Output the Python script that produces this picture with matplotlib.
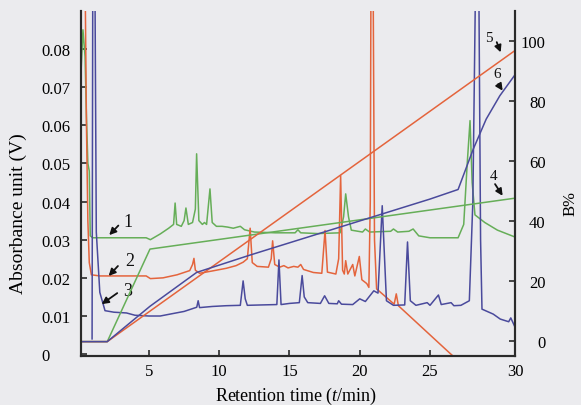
import matplotlib
matplotlib.use("Agg")
import matplotlib.pyplot as plt

plt.rcParams['font.family'] = ['Liberation Serif', 'DejaVu Serif']
plt.rcParams['mathtext.fontset'] = 'custom'
plt.rcParams['mathtext.rm'] = 'Liberation Serif'
plt.rcParams['mathtext.it'] = 'Liberation Serif:italic'

# ---- chromatogram 1 (green) ----
t1 = [0.14, 0.3, 0.45, 0.55, 0.65, 0.75, 0.82, 1.0, 3.0, 4.8, 5.1, 5.8, 6.4, 6.75, 6.86, 6.97, 7.3, 7.5, 7.63,
      7.8, 8.1, 8.3, 8.39, 8.55, 8.8, 8.95, 9.1, 9.34, 9.5, 9.8, 10.2, 10.6, 11.0, 11.5, 11.8, 12.5, 14.0, 15.4,
      15.6, 15.8, 17.0, 18.6, 18.85, 19.0, 19.2, 19.4, 20.2, 20.4, 20.7, 22.2, 22.4, 22.7, 23.5, 23.8, 24.2, 25.0,
      27.0, 27.4, 27.65, 27.85, 28.0, 28.2, 28.9, 29.8, 31.05]
v1 = [0.072, 0.085, 0.078, 0.062, 0.05, 0.048, 0.031, 0.0305, 0.0305, 0.0305, 0.0300, 0.0315, 0.033, 0.034, 0.0396,
      0.034, 0.0335, 0.035, 0.0383, 0.034, 0.0345, 0.038, 0.0525, 0.035, 0.034, 0.0345, 0.034, 0.0433, 0.0345, 0.0335,
      0.0335, 0.0333, 0.033, 0.0335, 0.0326, 0.032, 0.0318, 0.0318, 0.0326, 0.0318, 0.0316, 0.0318, 0.036, 0.042,
      0.036, 0.0325, 0.032, 0.0328, 0.032, 0.0322, 0.0328, 0.032, 0.0322, 0.0328, 0.031, 0.0305, 0.0305, 0.034,
      0.05, 0.0612, 0.045, 0.0365, 0.0345, 0.0325, 0.0307]

# ---- chromatogram 2 (red) ----
t2 = [0.2, 0.3, 0.45, 0.55, 0.65, 0.75, 0.9, 1.5, 4.8, 5.1, 6.0, 7.0, 7.9, 8.1, 8.2, 8.3, 8.6, 9.5, 10.5, 11.2,
      11.7, 12.0, 12.2, 12.35, 12.7, 13.5, 13.7, 13.8, 13.95, 14.3, 14.6, 14.9, 15.3, 15.6, 15.8, 16.0, 16.7, 17.3,
      17.53, 17.7, 18.3, 18.5, 18.64, 18.78, 18.9, 19.0, 19.15, 19.5, 19.65, 19.97, 20.15, 20.5, 20.65, 20.75, 20.8,
      20.95, 21.05, 21.2, 22.45, 22.6, 22.75, 26.4, 31.05]
v2 = [0.1, 0.1, 0.1, 0.06, 0.035, 0.024, 0.0208, 0.0205, 0.0205, 0.0198, 0.0200, 0.0208, 0.0219, 0.0235, 0.0251,
      0.022, 0.0212, 0.0218, 0.0225, 0.0232, 0.0241, 0.025, 0.033, 0.024, 0.023, 0.0228, 0.025, 0.0297, 0.0235,
      0.0228, 0.0232, 0.0226, 0.023, 0.0228, 0.0235, 0.0222, 0.0214, 0.0212, 0.0324, 0.0215, 0.021, 0.025, 0.0468,
      0.022, 0.021, 0.0245, 0.021, 0.0235, 0.0205, 0.0256, 0.0195, 0.0185, 0.0175, 0.04, 0.1, 0.1, 0.03, 0.0171,
      0.0131, 0.0158, 0.0127, 0.0003, -0.015]

# ---- chromatogram 3 (blue) ----
t3 = [0.95, 1.0, 1.15, 1.25, 1.5, 1.87, 2.5, 3.4, 4.0, 5.0, 5.8, 6.5, 7.5, 8.4, 8.5, 8.6, 9.5, 10.5, 11.5, 11.6,
      11.7, 11.85, 12.0, 13.0, 14.1, 14.25, 14.4, 15.0, 15.7, 15.9, 16.05, 16.3, 17.2, 17.5, 17.8, 18.4, 18.5, 18.7,
      19.5, 20.0, 20.4, 21.0, 21.3, 21.6, 21.9, 22.4, 23.2, 23.4, 23.6, 24.0, 24.8, 25.0, 25.6, 25.8, 26.5, 26.7,
      27.2, 27.8, 28.05, 28.25, 28.47, 28.6, 28.7, 29.5, 30.0, 30.6, 30.75, 31.05]
v3 = [0.004, 0.1, 0.1, 0.032, 0.0162, 0.0114, 0.011, 0.0108, 0.0102, 0.0100, 0.0100, 0.0105, 0.0112, 0.0123, 0.014,
      0.0122, 0.0125, 0.0127, 0.0128, 0.016, 0.0192, 0.0145, 0.0128, 0.0129, 0.013, 0.0247, 0.013, 0.0133, 0.0135,
      0.0206, 0.015, 0.0135, 0.0133, 0.0153, 0.0133, 0.0132, 0.014, 0.0131, 0.013, 0.0145, 0.0138, 0.0166, 0.016,
      0.0389, 0.014, 0.0128, 0.0129, 0.0294, 0.014, 0.0128, 0.0135, 0.0128, 0.0155, 0.013, 0.0135, 0.0127, 0.0128,
      0.014, 0.04, 0.1, 0.1, 0.03, 0.0118, 0.0105, 0.0092, 0.0085, 0.0095, 0.0071]

# ---- gradient profiles (B%) ----
g4_t = [0.14, 2.03, 5.07, 31.05]
g4_b = [-0.3, -0.3, 30.6, 47.6]
g5_t = [0.14, 2.03, 31.05]
g5_b = [-0.3, -0.3, 96.9]
g6_t = [0.14, 2.03, 5.07, 8.39, 12.19, 25.0, 27.0, 28.08, 29.0, 29.97, 31.05]
g6_b = [-0.3, -0.3, 11.5, 22.8, 28.6, 47.3, 50.5, 64.0, 74.0, 81.8, 88.8]

x_ticks = [5, 10, 15, 20, 25]
x_tick_labels = ['5', '10', '15', '20', '25', '30']
y_ticks = [0, 0.01, 0.02, 0.03, 0.04, 0.05, 0.06, 0.07, 0.08]
y_tick_labels = ['0', '0.01', '0.02', '0.03', '0.04', '0.05', '0.06', '0.07', '0.08']
b_ticks = [0, 20, 40, 60, 80, 100]

GREEN = '#66ae58'
RED = '#e4643c'
BLUE = '#4a4a9c'
BG = '#ebebee'
SPINE = '#2a2a2a'

W, H = 581, 406
fig = plt.figure(figsize=(W / 100, H / 100), dpi=100, facecolor=BG)
ax = fig.add_axes([80.7 / W, 1 - 356.7 / H, (515 - 80.7) / W, (356.7 - 11.7) / H])
ax.set_facecolor(BG)
XMIN, XMAX = 0.14, 31.05
ax.set_xlim(XMIN, XMAX)
ax.set_ylim(-0.0004, 0.0900)

lw = 1.1
ax.plot(t1, v1, color=GREEN, lw=lw)
ax.plot(t2, v2, color=RED, lw=lw)
ax.plot(t3, v3, color=BLUE, lw=lw)

ax2 = ax.twinx()
ax2.set_ylim(-5.0, 110.2)
ax2.plot(g4_t, g4_b, color=GREEN, lw=lw)
ax2.plot(g5_t, g5_b, color=RED, lw=lw)
ax2.plot(g6_t, g6_b, color=BLUE, lw=lw)

for a in (ax, ax2):
    a.spines['top'].set_visible(False)
    for s in ('left', 'right', 'bottom'):
        a.spines[s].set_color(SPINE)
        a.spines[s].set_linewidth(1.5)

ax.set_xticks(x_ticks + [XMAX])
ax.set_xticklabels(x_tick_labels)
ax.set_yticks(y_ticks)
ax.set_yticklabels(y_tick_labels)
ax.tick_params(axis='x', direction='in', length=4, width=1.2, color=SPINE, pad=5, labelsize=12)
ax.tick_params(axis='y', direction='in', length=4, width=1.2, color=SPINE, pad=28, labelsize=12)
for lab in ax.get_yticklabels():
    lab.set_horizontalalignment('left')

ax2.set_yticks(b_ticks)
ax2.tick_params(axis='y', direction='in', length=4, width=1.2, color=SPINE, pad=22, labelsize=12)
for lab in ax2.get_yticklabels():
    lab.set_horizontalalignment('right')

fig.text(296.5 / W, 1 - 396.7 / H, 'Retention time ($t$/min)', ha='center', va='center', fontsize=13)
fig.text(18.3 / W, 1 - 213.5 / H, 'Absorbance unit (V)', ha='center', va='center', rotation=90, fontsize=14)
fig.text(571 / W, 1 - 204 / H, 'B%', ha='center', va='center', rotation=90, fontsize=12)

arrow = dict(arrowstyle='-|>', color='#111111', lw=1.3, mutation_scale=10, shrinkA=0, shrinkB=0)
# numbered annotations, left axis (chromatograms)
left_notes = [('1', (3.17, 0.0347), (2.82, 0.0337), (2.17, 0.0312)),
              ('2', (3.29, 0.0245), (2.79, 0.0231), (2.13, 0.0205)),
              ('3', (3.13, 0.0166), (2.74, 0.0160), (1.63, 0.0131))]
for txt, tp, tail, head in left_notes:
    ax.annotate('', xy=head, xytext=tail, arrowprops=arrow)
    ax.text(tp[0], tp[1], txt, fontsize=13, ha='left', va='center', color='#111111')
right_notes = [('4', (29.5, 55.1), (29.63, 52.3), (30.17, 48.4)),
               ('5', (29.22, 101.3), (29.75, 99.7), (30.03, 96.3)),
               ('6', (29.75, 89.1), (29.86, 85.7), (30.17, 83.5))]
for txt, tp, tail, head in right_notes:
    ax2.annotate('', xy=head, xytext=tail, arrowprops=arrow)
    ax2.text(tp[0], tp[1], txt, fontsize=11, ha='center', va='center', color='#111111')

fig.savefig('out.png', dpi=100, facecolor=BG)
